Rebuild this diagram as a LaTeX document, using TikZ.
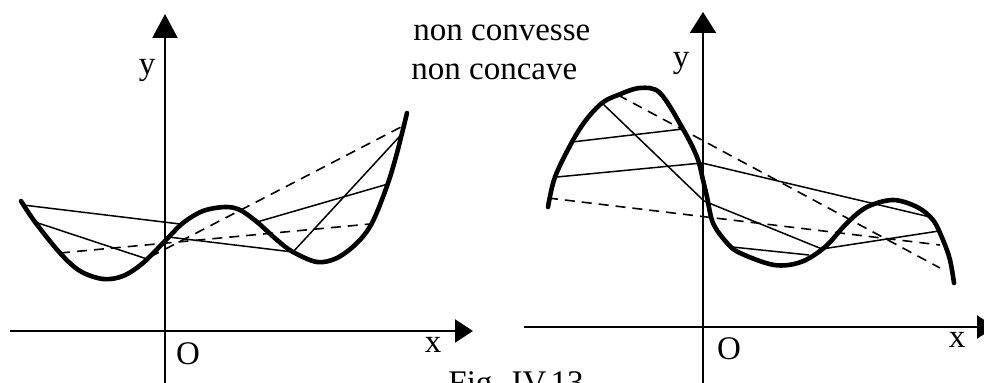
\documentclass[tikz,border=0pt]{standalone}
\usepackage{fontspec}
\setmainfont{Liberation Serif}
\usepackage{tikz}
\usetikzlibrary{arrows.meta,positioning}

\begin{document}
\begin{tikzpicture}[x=0.5pt, y=-0.5pt,
    xaxis/.style={line width=1.1pt, -{Triangle[length=9pt, width=11.5pt]}},
    yaxis/.style={line width=1.1pt, -{Triangle[length=12pt, width=12.5pt]}},
    curve/.style={line width=2.3pt, line join=round, line cap=round},
    chord/.style={line width=0.75pt},
    dchord/.style={line width=0.8pt, dash pattern=on 5pt off 3.5pt},
    lbl/.style={font=\fontsize{16.5}{19.5}\selectfont, inner sep=0pt}
]
\useasboundingbox (0,0) rectangle (984,383);

\coordinate (xstartL) at (10,331);
\coordinate (xendL) at (473,331);
\coordinate (ystartL) at (165,395);
\coordinate (yendL) at (165,14);
\coordinate (xstartR) at (524,327);
\coordinate (xendR) at (995,327);
\coordinate (ystartR) at (703,395);
\coordinate (yendR) at (703,12);

\draw[xaxis] (xstartL) -- (xendL);
\draw[yaxis] (ystartL) -- (yendL);
\draw[xaxis] (xstartR) -- (xendR);
\draw[yaxis, -{Triangle[length=10.5pt, width=13pt]}] (ystartR) -- (yendR);

\node[lbl, anchor=base] (yleft) at (147,75) {y};
\node[lbl, anchor=base] (oleft) at (188,365) {O};
\node[lbl, anchor=base] (xleft) at (433,353) {x};
\node[lbl, anchor=base] (yright) at (681,68) {y};
\node[lbl, anchor=base] (oright) at (729,360) {O};
\node[lbl, anchor=base] (xright) at (957,348) {x};
\node[lbl, anchor=base west] (convex) at (413,41) {non convesse};
\node[lbl, anchor=base west] (concave) at (411,80) {non concave};
\node[lbl, anchor=base west] (caption) at (448,394) {Fig. IV.13};

\coordinate (l1) at (23,205);
\coordinate (l2) at (180,224);
\coordinate (l3) at (35,222);
\coordinate (l4) at (147,259);
\coordinate (l5) at (168,237);
\coordinate (l6) at (293,252);
\coordinate (l7) at (400,136);
\coordinate (l8) at (257,222);
\coordinate (l9) at (388,184);
\coordinate (l10) at (60,253);
\coordinate (l11) at (370,224);
\coordinate (l12) at (150,257);
\coordinate (l13) at (403,126);

\draw[chord] (l1) -- (l2);
\draw[chord] (l3) -- (l4);
\draw[chord] (l5) -- (l6);
\draw[chord] (l6) -- (l7);
\draw[chord] (l8) -- (l9);
\draw[dchord] (l10) -- (l11);
\draw[dchord] (l12) -- (l13);

\draw[curve] plot[smooth, tension=0.55] coordinates {(21,201) (35,222) (60,253) (80,271) (103,279) (123,276) (143,263) (165,241) (183,223) (203,211) (225,207) (240,210) (257,222) (277,240) (293,252) (317,262) (337,258) (357,243) (372,223) (387,186) (397,153) (407,113)};

\coordinate (r1) at (572,142);
\coordinate (r2) at (683,129);
\coordinate (r3) at (557,177);
\coordinate (r4) at (702,163);
\coordinate (r5) at (930,217);
\coordinate (r6) at (602,103);
\coordinate (r7) at (704,201);
\coordinate (r8) at (822,249);
\coordinate (r9) at (732,247);
\coordinate (r10) at (809,255);
\coordinate (r11) at (939,231);
\coordinate (r12) at (548,198);
\coordinate (r13) at (940,245);
\coordinate (r14) at (618,95);
\coordinate (r15) at (940,268);

\draw[chord] (r1) -- (r2);
\draw[chord] (r3) -- (r4);
\draw[chord] (r4) -- (r5);
\draw[chord] (r6) -- (r7);
\draw[chord] (r7) -- (r8);
\draw[chord] (r9) -- (r10);
\draw[chord] (r8) -- (r11);
\draw[dchord] (r12) -- (r13);
\draw[dchord] (r14) -- (r15);

\draw[curve] plot[smooth, tension=0.55] coordinates {(548,207) (555,177) (572,142) (586,120) (602,103) (618,95) (640,88) (660,93) (683,129) (697,157) (703,180) (707,197) (713,223) (727,243) (740,253) (774,265) (801,262) (825,247) (847,223) (867,207) (893,200) (917,207) (933,220) (943,240) (950,260) (954,283)};

\end{tikzpicture}
\end{document}
